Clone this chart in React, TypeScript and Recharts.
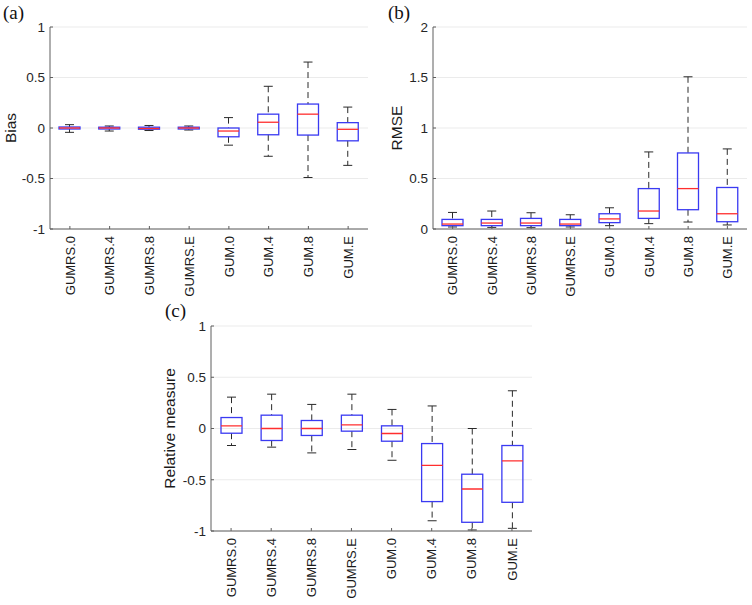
import React from 'react';
import { ComposedChart, Bar, XAxis, YAxis, CartesianGrid } from 'recharts';

const categories = ['GUMRS.0', 'GUMRS.4', 'GUMRS.8', 'GUMRS.E', 'GUM.0', 'GUM.4', 'GUM.8', 'GUM.E'];

// (a) Bias
const biasMin = [-0.043, -0.03, -0.025, -0.02, -0.17, -0.28, -0.49, -0.37];
const biasQ1 = [-0.01, -0.01, -0.012, -0.01, -0.087, -0.067, -0.07, -0.127];
const biasMed = [0, 0, -0.005, 0, -0.03, 0.057, 0.137, -0.013];
const biasQ3 = [0.01, 0.008, 0.008, 0.008, 0, 0.137, 0.237, 0.053];
const biasMax = [0.033, 0.02, 0.025, 0.02, 0.103, 0.413, 0.653, 0.207];

// (b) RMSE
const rmseMin = [0.02, 0.016, 0.013, 0.02, 0.033, 0.053, 0.069, 0.04];
const rmseQ1 = [0.033, 0.033, 0.033, 0.033, 0.063, 0.105, 0.191, 0.072];
const rmseMed = [0.049, 0.059, 0.059, 0.049, 0.1, 0.178, 0.4, 0.151];
const rmseQ3 = [0.095, 0.095, 0.105, 0.095, 0.151, 0.4, 0.753, 0.411];
const rmseMax = [0.164, 0.178, 0.161, 0.141, 0.21, 0.763, 1.507, 0.793];

// (c) Relative measure
const relMin = [-0.166, -0.182, -0.238, -0.205, -0.31, -0.9, -0.99, -0.974];
const relQ1 = [-0.046, -0.117, -0.068, -0.026, -0.124, -0.713, -0.915, -0.72];
const relMed = [0.026, 0, 0, 0.036, -0.049, -0.36, -0.59, -0.316];
const relQ3 = [0.107, 0.13, 0.078, 0.13, 0.026, -0.147, -0.446, -0.166];
const relMax = [0.306, 0.335, 0.235, 0.335, 0.186, 0.22, 0, 0.368];

const ticksA = [-1, -0.5, 0, 0.5, 1];
const ticksB = [0, 0.5, 1, 1.5, 2];
const ticksC = [-1, -0.5, 0, 0.5, 1];

const FONT = '"Liberation Sans", Arial, Helvetica, sans-serif';
const AXIS = '#5e5e5e';
const BLUE = '#3a3af2';
const RED = '#ff2e2e';

type Row = { name: string; min: number; q1: number; med: number; q3: number; max: number };

function build(mn: number[], q1: number[], md: number[], q3: number[], mx: number[]): Row[] {
  return categories.map((name, i) => ({ name, min: mn[i], q1: q1[i], med: md[i], q3: q3[i], max: mx[i] }));
}

const BoxShape = (props: any) => {
  const { x, y, width, height, payload } = props;
  if (payload == null) return null;
  const top = Math.min(y, y + height);
  const bot = Math.max(y, y + height);
  const span = payload.max - payload.min;
  const py = (v: number) => (span === 0 ? top : top + ((payload.max - v) / span) * (bot - top));
  const cx = x + width / 2;
  const cap = 4.5;
  const yq1 = py(payload.q1);
  const yq3 = py(payload.q3);
  const ym = py(payload.med);
  return (
    <g>
      <line x1={cx} x2={cx} y1={top} y2={yq3} stroke="#2a2a2a" strokeWidth={1} strokeDasharray="6 4" />
      <line x1={cx} x2={cx} y1={yq1} y2={bot} stroke="#2a2a2a" strokeWidth={1} strokeDasharray="6 4" />
      <line x1={cx - cap} x2={cx + cap} y1={top} y2={top} stroke="#2a2a2a" strokeWidth={1} />
      <line x1={cx - cap} x2={cx + cap} y1={bot} y2={bot} stroke="#2a2a2a" strokeWidth={1} />
      <rect x={x} y={yq3} width={width} height={Math.max(yq1 - yq3, 0.5)} fill="none" stroke={BLUE} strokeWidth={1.3} />
      <line x1={x} x2={x + width} y1={ym} y2={ym} stroke={RED} strokeWidth={1.3} />
    </g>
  );
};

const XTick = (props: any) => {
  const { x, y, payload } = props;
  return (
    <text
      x={x}
      y={y}
      transform={`rotate(-90, ${x}, ${y})`}
      textAnchor="end"
      dy="0.36em"
      fontSize={13}
      fontFamily={FONT}
      fill="#1a1a1a"
    >
      {payload.value}
    </text>
  );
};

type PanelProps = {
  data: Row[];
  domain: [number, number];
  ticks: number[];
  label: string;
  width: number;
  height: number;
  margin: { top: number; right: number; bottom: number; left: number };
  yWidth: number;
  xHeight: number;
  labelX: number;
};

const Panel = ({ data, domain, ticks, label, width, height, margin, yWidth, xHeight, labelX }: PanelProps) => (
  <ComposedChart width={width} height={height} data={data} margin={margin} barCategoryGap={0}>
    <CartesianGrid horizontal vertical={false} stroke="#ebebeb" strokeWidth={1} />
    <XAxis
      dataKey="name"
      type="category"
      height={xHeight}
      interval={0}
      tickSize={-3}
      tickMargin={10}
      tick={<XTick />}
      axisLine={{ stroke: AXIS }}
      tickLine={{ stroke: AXIS }}
    />
    <XAxis
      xAxisId="top"
      dataKey="name"
      type="category"
      orientation="top"
      height={0}
      interval={0}
      tickSize={-3}
      tick={false}
      axisLine={{ stroke: AXIS }}
      tickLine={{ stroke: AXIS }}
    />
    <YAxis
      type="number"
      domain={domain}
      ticks={ticks}
      width={yWidth}
      interval={0}
      tickSize={-3}
      tickMargin={8}
      allowDataOverflow
      tick={{ fontSize: 13.5, fontFamily: FONT, fill: '#262626' }}
      axisLine={{ stroke: AXIS }}
      tickLine={{ stroke: AXIS }}
      label={{
        content: (p: any) => {
          const vb = p.viewBox || { y: 0, height: 0 };
          const cy = vb.y + vb.height / 2;
          return (
            <text
              x={labelX}
              y={cy}
              transform={`rotate(-90, ${labelX}, ${cy})`}
              textAnchor="middle"
              dy="0.36em"
              fontSize={15.5}
              fontFamily={FONT}
              fill="#1a1a1a"
            >
              {label}
            </text>
          );
        },
      }}
    />
    <YAxis
      yAxisId="right"
      type="number"
      orientation="right"
      domain={domain}
      ticks={ticks}
      width={0}
      tickSize={-3}
      tick={false}
      axisLine={{ stroke: AXIS }}
      tickLine={{ stroke: AXIS }}
    />
    <Bar dataKey={(d: Row) => [d.min, d.max]} barSize={21} shape={<BoxShape />} isAnimationActive={false} />
  </ComposedChart>
);

const panelLabel: React.CSSProperties = {
  position: 'absolute',
  fontFamily: '"Liberation Serif", "Times New Roman", serif',
  fontSize: 19,
  lineHeight: '19px',
  color: '#111',
};

export default function App() {
  const dataA = build(biasMin, biasQ1, biasMed, biasQ3, biasMax);
  const dataB = build(rmseMin, rmseQ1, rmseMed, rmseQ3, rmseMax);
  const dataC = build(relMin, relQ1, relMed, relQ3, relMax);
  return (
    <div style={{ position: 'absolute', left: 0, top: 0, width: 752, height: 605, background: '#fff', overflow: 'hidden' }}>
      <div style={{ position: 'absolute', left: 0, top: 0 }}>
        <Panel
          data={dataA}
          domain={[-1, 1]}
          ticks={ticksA}
          label="Bias"
          width={376}
          height={300}
          margin={{ top: 27, right: 8, bottom: 6, left: 0 }}
          yWidth={50}
          xHeight={65}
          labelX={10}
        />
      </div>
      <div style={{ position: 'absolute', left: 376, top: 0 }}>
        <Panel
          data={dataB}
          domain={[0, 2]}
          ticks={ticksB}
          label="RMSE"
          width={376}
          height={300}
          margin={{ top: 27, right: 5, bottom: 6, left: 0 }}
          yWidth={57}
          xHeight={65}
          labelX={20}
        />
      </div>
      <div style={{ position: 'absolute', left: 150, top: 300 }}>
        <Panel
          data={dataC}
          domain={[-1, 1]}
          ticks={ticksC}
          label="Relative measure"
          width={420}
          height={305}
          margin={{ top: 26, right: 38, bottom: 6, left: 0 }}
          yWidth={61}
          xHeight={68}
          labelX={19}
        />
      </div>
      <div style={{ ...panelLabel, left: 3, top: 3 }}>(a)</div>
      <div style={{ ...panelLabel, left: 388, top: 3 }}>(b)</div>
      <div style={{ ...panelLabel, left: 165, top: 301 }}>(c)</div>
    </div>
  );
}
